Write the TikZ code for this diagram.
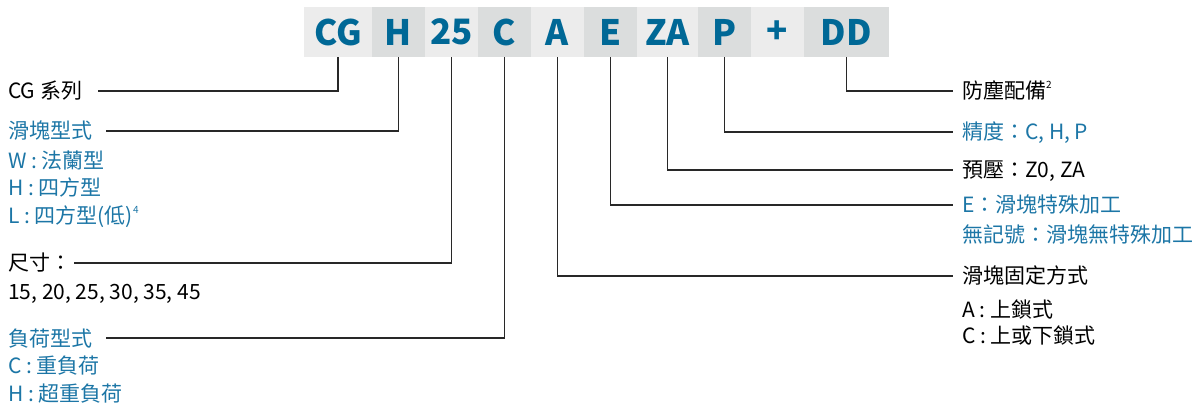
\documentclass[tikz,border=0pt]{standalone}
\usepackage{fontspec}
\setmainfont{Noto Sans CJK TC}
\usepackage{xcolor}

\definecolor{codeblue}{RGB}{0,104,150}
\definecolor{noteblue}{RGB}{28,118,166}
\definecolor{bandlight}{RGB}{236,236,236}
\definecolor{banddark}{RGB}{219,221,221}
\definecolor{leadgray}{RGB}{40,40,40}

\newcommand{\supnum}[1]{\raisebox{0.5em}{\fontsize{10}{10}\selectfont #1}}

\begin{document}
\begin{tikzpicture}[x=1pt, y=-1pt,
    codebox/.style={minimum height=50pt, inner sep=0pt, text=codeblue,
        font=\fontsize{35}{40}\selectfont\bfseries},
    note/.style={anchor=west, inner sep=0pt, text height=18.5pt, text depth=2.5pt,
        font=\fontsize{21}{25}\selectfont},
    lead/.style={draw=leadgray, line width=1.3pt}]

    \useasboundingbox (0,0) rectangle (1195,406);

    % Model code band
    \node[codebox, fill=bandlight, minimum width=68pt] (cg) at (338, 32) {CG};
    \node[codebox, fill=banddark, minimum width=53pt] (h) at (398.5, 32) {H};
    \node[codebox, fill=bandlight, minimum width=53pt] (size) at (451.5, 32) {25};
    \node[codebox, fill=banddark, minimum width=53pt] (c) at (504.5, 32) {C};
    \node[codebox, fill=bandlight, minimum width=53pt] (a) at (557.5, 32) {A};
    \node[codebox, fill=banddark, minimum width=53pt] (e) at (610.5, 32) {E};
    \node[codebox, fill=bandlight, minimum width=61pt] (za) at (667.5, 32) {ZA};
    \node[codebox, fill=banddark, minimum width=53pt] (p) at (724.5, 32) {P};
    \node[codebox, fill=bandlight, minimum width=53pt] (plus) at (777.5, 32) {+};
    \node[codebox, fill=banddark, minimum width=85pt] (dd) at (846.5, 32) {DD};

    % Series
    \node[note] (series) at (8, 91) {CG 系列};
    \draw[lead, shorten >=16pt] (cg.south) |- (series.east);

    % Block type
    \node[note, text=noteblue] (block) at (8, 131) {滑塊型式};
    \node[note, text=noteblue] (blockw) at (8, 161) {W : 法蘭型};
    \node[note, text=noteblue] (blockh) at (8, 188) {H : 四方型};
    \node[note, text=noteblue] (blockl) at (8, 216) {L : 四方型(低)\supnum{4}};
    \draw[lead, shorten >=14pt] (h.south) |- (block.east);

    % Size
    \node[note] (dim) at (8, 263) {尺寸：};
    \node[note] (dimlist) at (8, 292) {15, 20, 25, 30, 35, 45};
    \draw[lead, shorten >=3pt] (size.south) |- (dim.east);

    % Load type
    \node[note, text=noteblue] (load) at (8, 338) {負荷型式};
    \node[note, text=noteblue] (loadc) at (8, 365) {C : 重負荷};
    \node[note, text=noteblue] (loadh) at (8, 393) {H : 超重負荷};
    \draw[lead, shorten >=14pt] (c.south) |- (load.east);

    % Dust protection
    \node[note] (dust) at (962, 91) {防塵配備\supnum{2}};
    \draw[lead, shorten >=9pt] (dd.south) |- (dust.west);

    % Accuracy
    \node[note, text=noteblue] (acc) at (962, 132) {精度：C, H, P};
    \draw[lead, shorten >=9pt] (p.south) |- (acc.west);

    % Preload
    \node[note] (pre) at (962, 170) {預壓：Z0, ZA};
    \draw[lead, shorten >=9pt] (za.south) |- (pre.west);

    % Special treatment
    \node[note, text=noteblue] (spec) at (962, 205) {E：滑塊特殊加工};
    \node[note, text=noteblue] (specnone) at (962, 235) {無記號：滑塊無特殊加工};
    \draw[lead, shorten >=9pt] (e.south) |- (spec.west);

    % Fixing method
    \node[note] (fix) at (962, 276) {滑塊固定方式};
    \node[note] (fixa) at (962, 309) {A : 上鎖式};
    \node[note] (fixc) at (962, 335) {C : 上或下鎖式};
    \draw[lead, shorten >=9pt] (a.south) |- (fix.west);

\end{tikzpicture}
\end{document}
